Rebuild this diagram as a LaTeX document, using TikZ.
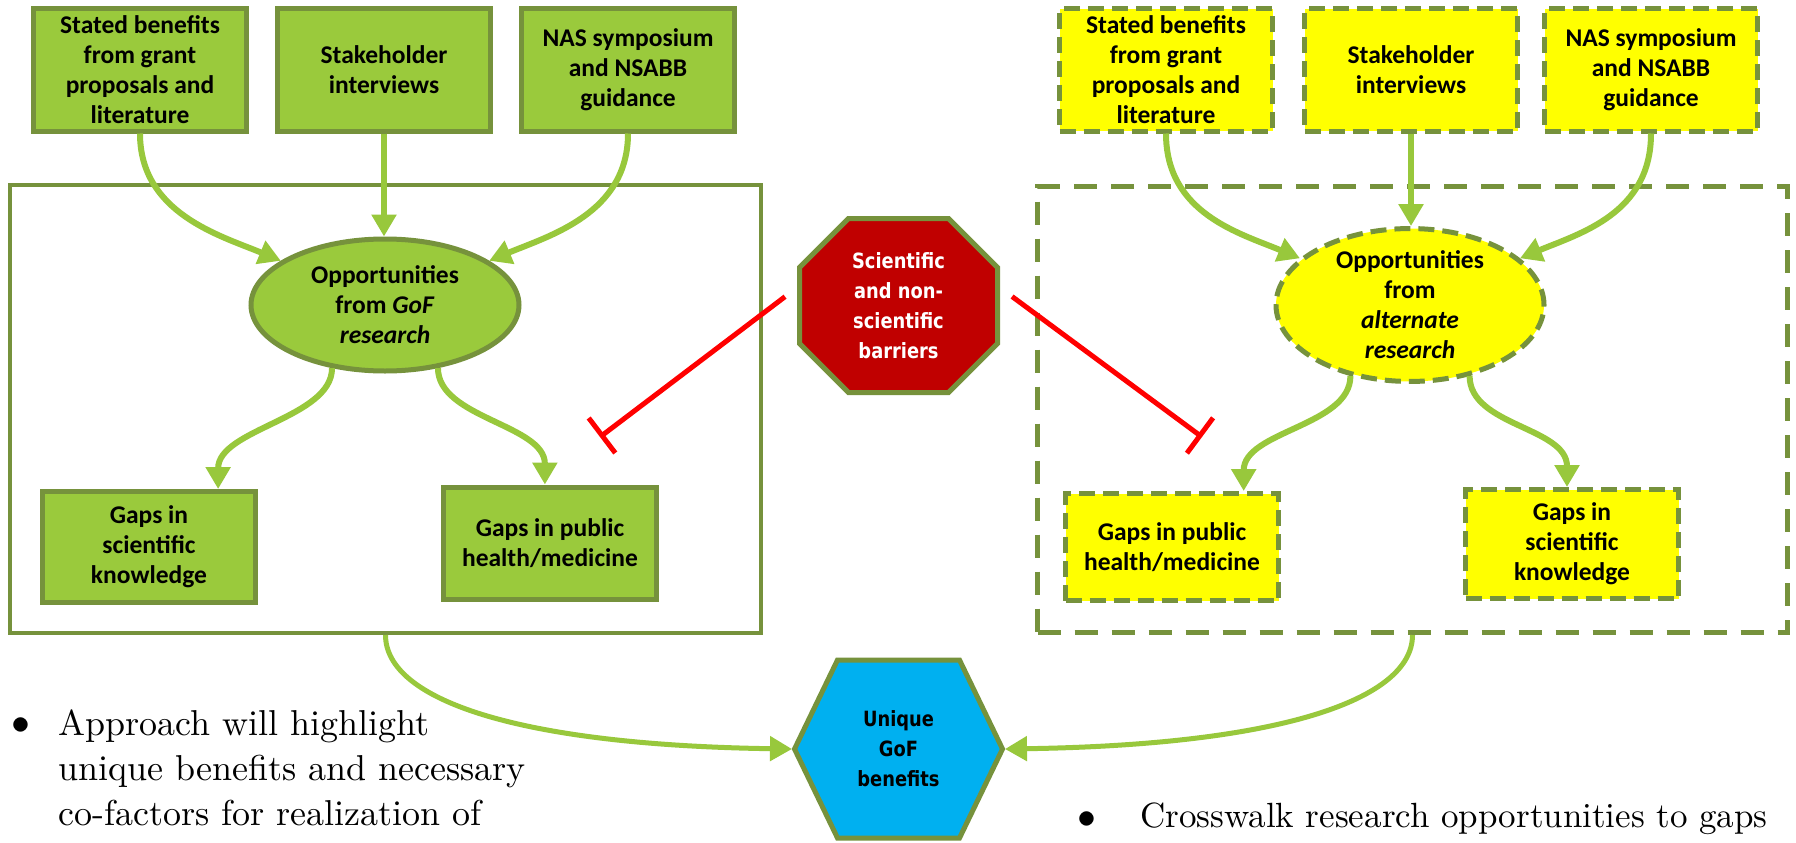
\documentclass[tikz,border=0pt]{standalone}
\usepackage{fontspec}
\newfontfamily\boxfont{Carlito}
\newfontfamily\shapefont[FakeStretch=0.85]{DejaVu Sans}
\newfontfamily\bulfont{lmroman10-regular.otf}
\usetikzlibrary{arrows.meta,calc,shapes.geometric}
\definecolor{gfill}{RGB}{154,202,60}
\definecolor{gedge}{RGB}{118,146,60}
\definecolor{garrow}{RGB}{152,200,60}
\definecolor{yfill}{RGB}{255,255,0}
\definecolor{octred}{RGB}{192,0,0}
\definecolor{hexblue}{RGB}{0,176,240}
\definecolor{inhred}{RGB}{255,0,0}
\begin{document}
\begin{tikzpicture}[x=1pt,y=-1pt,
  boxtext/.style={font=\boxfont\bfseries\fontsize{25.5}{30}\selectfont, align=center, text=black},
  gbox/.style={boxtext, draw=gedge, fill=gfill, line width=5pt, minimum width=213pt, minimum height=122pt, inner sep=0pt},
  ybox/.style={gbox, fill=yfill, dash pattern=on 16pt off 8pt},
  gell/.style={boxtext, ellipse, draw=gedge, fill=gfill, line width=5pt, minimum width=268pt, minimum height=132pt, inner sep=0pt},
  yell/.style={gell, fill=yfill, dash pattern=on 16pt off 8pt},
  flow/.style={draw=garrow, line width=6pt, -{Triangle[length=22pt,width=24pt]}},
  flowb/.style={draw=garrow, line width=5pt, -{Triangle[length=22pt,width=24pt]}},
  inhib/.style={draw=inhred, line width=5pt, -{Bar[width=44pt]}, shorten <=15pt},
  shapetext/.style={font=\shapefont\bfseries\fontsize{21}{30}\selectfont, align=center, inner sep=0pt, outer sep=0pt},
  bullettext/.style={font=\bulfont\fontsize{36}{45}\selectfont, align=left, inner sep=0pt},
  bulletdot/.style={font=\bulfont\fontsize{50}{50}\selectfont, inner sep=0pt},
]
\useasboundingbox[fill=white] (0,0) rectangle (1796,843);

% frames
\node[draw=gedge, line width=4pt, minimum width=751pt, minimum height=448pt, inner sep=0pt] (frameL) at (385.5,409) {};
\node[draw=gedge, line width=5pt, dash pattern=on 23pt off 14pt, minimum width=750pt, minimum height=446pt, inner sep=0pt] (frameR) at (1412.5,409.5) {};

% left group
\node[gbox] (b1) at (140,70) {Stated benefits\\from grant\\proposals and\\literature};
\node[gbox] (b2) at (384,70) {Stakeholder\\interviews};
\node[gbox] (b3) at (628,70) {NAS symposium\\and NSABB\\guidance};
\node[gell] (e1) at (385,305) {Opportunities\\from \textit{GoF}\\\textit{research}};
\node[gbox, minimum height=111pt] (g1) at (149,547) {Gaps in\\scientific\\knowledge};
\node[gbox, minimum height=112pt] (g2) at (550,543) {Gaps in public\\health/medicine};

% right group
\node[ybox] (y1) at (1166,70) {Stated benefits\\from grant\\proposals and\\literature};
\node[ybox] (y2) at (1411,70) {Stakeholder\\interviews};
\node[ybox] (y3) at (1651,70) {NAS symposium\\and NSABB\\guidance};
\node[yell] (e2) at (1410,305) {Opportunities\\from\\\textit{alternate}\\\textit{research}};
\node[ybox, minimum height=107pt] (yg1) at (1172,547) {Gaps in public\\health/medicine};
\node[ybox, minimum height=109pt] (yg2) at (1572,544) {Gaps in\\scientific\\knowledge};

% octagon
\coordinate (octc) at (898.5,305.5);
\draw[draw=gedge, fill=octred, line width=5pt, line join=miter]
  ($(octc)+(-50,-87)$) -- ($(octc)+(50,-87)$) -- ($(octc)+(99,-38)$) -- ($(octc)+(99,38)$)
  -- ($(octc)+(50,87)$) -- ($(octc)+(-50,87)$) -- ($(octc)+(-99,38)$) -- ($(octc)+(-99,-38)$) -- cycle;
\node[shapetext, text=white, minimum width=203pt, minimum height=179pt] (oct) at (octc) {Scientific\\and non-\\scientific\\barriers};

% hexagon
\coordinate (hexc) at (898.5,749);
\draw[draw=gedge, fill=hexblue, line width=5pt]
  ($(hexc)+(-104,0)$) -- ($(hexc)+(-61,-89)$) -- ($(hexc)+(61,-89)$) -- ($(hexc)+(104,0)$)
  -- ($(hexc)+(61,89)$) -- ($(hexc)+(-61,89)$) -- cycle;
\node[shapetext, text=black, minimum width=213pt, minimum height=182pt] (hex) at (hexc) {Unique\\GoF\\benefits};

% left arrows
\draw[flow] (b1.south) .. controls ($(b1.south)+(0,80)$) and ($(e1.157)+(-60,-25)$) .. (e1.157);
\draw[flow] (b2.south) -- (b2.south |- e1.north);
\draw[flow] (b3.south) .. controls ($(b3.south)+(0,80)$) and ($(e1.23)+(60,-25)$) .. (e1.23);
\draw[flow] (e1.-130) .. controls ($(e1.-130)+(0,50)$) and ($(g1.40)+(0,-60)$) .. (g1.40);
\draw[flow] (e1.-50) .. controls ($(e1.-50)+(0,50)$) and ($(g2.95)+(0,-60)$) .. (g2.95);

% right arrows
\draw[flow] (y1.south) .. controls ($(y1.south)+(0,80)$) and ($(e2.157)+(-60,-25)$) .. (e2.157);
\draw[flow] (y2.south) -- (y2.south |- e2.north);
\draw[flow] (y3.south) .. controls ($(y3.south)+(0,80)$) and ($(e2.23)+(60,-25)$) .. (e2.23);
\draw[flow] (e2.-130) .. controls ($(e2.-130)+(0,50)$) and ($(yg1.38)+(0,-60)$) .. (yg1.38);
\draw[flow] (e2.-50) .. controls ($(e2.-50)+(0,50)$) and ($(yg2.95)+(0,-60)$) .. (yg2.95);

% to hexagon
\draw[flowb] (frameL.south) .. controls ($(frameL.south)+(0,65)$) and ($(hex.west)+(-274,-4)$) .. (hex.west);
\draw[flowb] (frameR.south) .. controls ($(frameR.south)+(0,65)$) and ($(hex.east)+(274,-4)$) .. (hex.east);

% inhibitors
\coordinate (inhL) at (600,437);
\coordinate (inhR) at (1202,437);
\draw[inhib] (oct.170) -- (inhL);
\draw[inhib] (oct.10) -- (inhR);

% bullet texts
\node[bulletdot, anchor=base west] (bulL) at (1,736) {\textbullet};
\node[bullettext, anchor=north west] (txtL) at (58,710) {Approach will highlight\\unique benefits and necessary\\co-factors for realization of};
\node[bulletdot, anchor=base] (bulR) at (1087,830) {\textbullet};
\node[bullettext, font=\bulfont\fontsize{35}{45}\selectfont, anchor=base west] (txtR) at (1140,827) {Crosswalk research opportunities to gaps};
\end{tikzpicture}
\end{document}
